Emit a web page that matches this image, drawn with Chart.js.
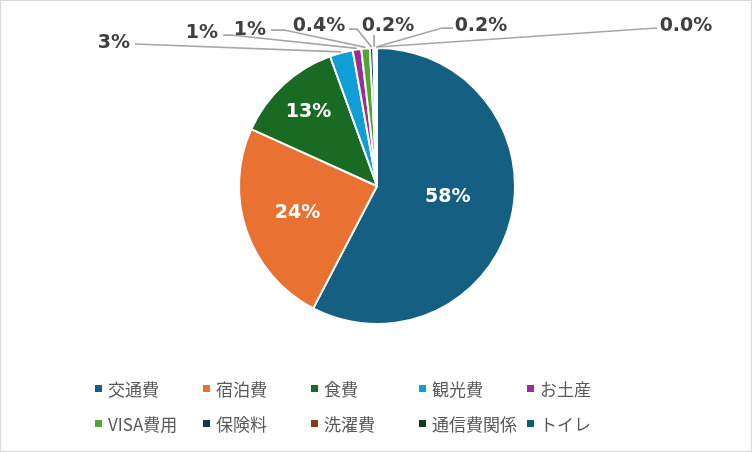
<!DOCTYPE html>
<html>
<head>
<meta charset="utf-8">
<script src="https://cdn.jsdelivr.net/npm/chart.js@4/dist/chart.umd.min.js"></script>
<style>
  body { margin: 0; background: #fff; }
  #wrap { position: relative; width: 752px; height: 452px; box-sizing: border-box; border: 1px solid #d9d9d9; background: #fff; }
  #chart { position: absolute; left: 0; top: 0; }
  #legend { position: absolute; left: 94px; top: 370px; display: grid; grid-template-columns: repeat(5, 108px); grid-auto-rows: 35px; }
  .item { display: flex; align-items: center; font: 17px "Noto Sans CJK JP", sans-serif; color: #595959; white-space: nowrap; }
  .box { width: 7px; height: 7px; margin-right: 6px; flex: none; }
</style>
</head>
<body>
<div id="wrap">
  <canvas id="chart" width="752" height="452"></canvas>
  <div id="legend"></div>
</div>
<script>
// Data
const categories = ['交通費', '宿泊費', '食費', '観光費', 'お土産', 'VISA費用', '保険料', '洗濯費', '通信費関係', 'トイレ'];
const shares = [57.6, 24.1, 12.7, 2.7, 1.0, 1.0, 0.4, 0.2, 0.2, 0.02];
const colors = ['#156082', '#e97132', '#196b24', '#0f9ed5', '#a02b93', '#4ea72e', '#0d3a4e', '#8b3a12', '#0f4016', '#095f80'];

// Where each percentage label goes (inside: fraction of radius + angle nudge; outside: text spot + leader start)
const labelLayout = [
  { inside: true, r: 0.52, turn: -0.08 },
  { inside: true, r: 0.61, turn: 0 },
  { inside: true, r: 0.73, turn: 0 },
  { x: 113, y: 42, sx: 134, sy: 43 },
  { x: 201, y: 32, sx: 222, sy: 34, bx: 230 },
  { x: 249, y: 29, sx: 270, sy: 29, bx: 283 },
  { x: 318, y: 25, sx: 348, sy: 28, bx: 356 },
  { x: 387, y: 25, sx: 373, sy: 34 },
  { x: 480, y: 25, sx: 452, sy: 27, bx: 441 },
  { x: 685, y: 25, sx: 656, sy: 27 }
];

const total = shares.reduce((a, b) => a + b, 0);

function pctText(v) {
  const p = v / total * 100;
  return (Math.round(p) >= 1 ? p.toFixed(0) : p.toFixed(1)) + '%';
}

// Draw the data labels and leader lines
const sliceLabels = {
  id: 'sliceLabels',
  afterDatasetsDraw(chart) {
    const ctx = chart.ctx;
    const meta = chart.getDatasetMeta(0);
    ctx.save();
    ctx.font = 'bold 19px "DejaVu Sans"';
    ctx.textBaseline = 'middle';
    ctx.textAlign = 'center';
    meta.data.forEach((arc, i) => {
      const lay = labelLayout[i];
      const text = pctText(shares[i]);
      const mid = (arc.startAngle + arc.endAngle) / 2;
      if (lay.inside) {
        const r = arc.outerRadius * lay.r;
        const a = mid + lay.turn;
        ctx.fillStyle = '#ffffff';
        ctx.fillText(text, arc.x + Math.cos(a) * r, arc.y + Math.sin(a) * r);
        return;
      }
      const ex = arc.x + Math.cos(mid) * (arc.outerRadius + 1);
      const ey = arc.y + Math.sin(mid) * (arc.outerRadius + 1);
      ctx.strokeStyle = '#a6a6a6';
      ctx.lineWidth = 1.75;
      ctx.beginPath();
      ctx.moveTo(lay.sx, lay.sy);
      if (lay.bx !== undefined) ctx.lineTo(lay.bx, lay.sy);
      ctx.lineTo(ex, ey);
      ctx.stroke();
      ctx.fillStyle = '#404040';
      ctx.fillText(text, lay.x, lay.y);
    });
    ctx.restore();
  }
};

const chart = new Chart(document.getElementById('chart'), {
  type: 'pie',
  data: {
    labels: categories,
    datasets: [{
      data: shares,
      backgroundColor: colors,
      borderColor: '#ffffff',
      borderWidth: 2
    }]
  },
  options: {
    responsive: false,
    animation: false,
    layout: { padding: { top: 46, bottom: 128 } },
    plugins: {
      legend: { display: false },
      tooltip: { enabled: false }
    }
  },
  plugins: [sliceLabels]
});

// Legend in a fixed grid like the original
const legend = document.getElementById('legend');
categories.forEach((name, i) => {
  const item = document.createElement('div');
  item.className = 'item';
  item.innerHTML = `<span class="box" style="background:${colors[i]}"></span><span>${name}</span>`;
  legend.appendChild(item);
});
</script>
</body>
</html>
